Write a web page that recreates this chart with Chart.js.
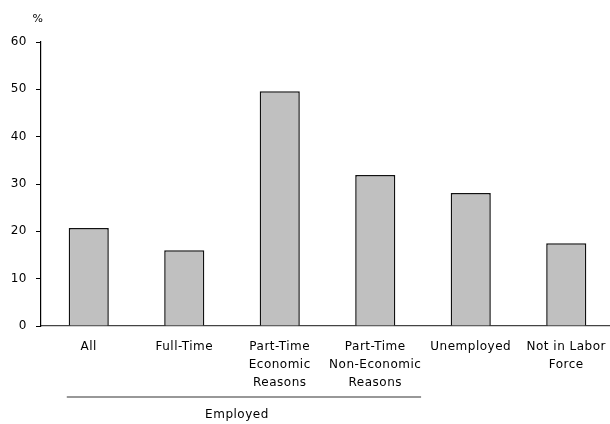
<!DOCTYPE html>
<html>
<head>
<meta charset="utf-8">
<script src="https://cdn.jsdelivr.net/npm/chart.js@4/dist/chart.umd.min.js"></script>
<style>
  html, body { margin: 0; padding: 0; background: #fff; overflow: hidden; }
  #wrap { width: 610px; height: 424px; overflow: hidden; }
  canvas { display: block; }
</style>
</head>
<body>
<div id="wrap"><canvas id="c" width="616" height="424"></canvas></div>
<script>
// Share of each labor-force group, percent
const categories = [
  ['All'],
  ['Full-Time'],
  ['Part-Time', 'Economic', 'Reasons'],
  ['Part-Time', 'Non-Economic', 'Reasons'],
  ['Unemployed'],
  ['Not in Labor', 'Force']
];
const values = [20.7, 16.0, 49.6, 31.9, 28.1, 17.5];
const yTicks = [0, 10, 20, 30, 40, 50, 60];
const unitLabel = '%';
const groupLabel = 'Employed';
const groupFirst = 0;   // first category under the "Employed" bracket
const groupLast = 3;    // last category under the bracket

const FONT = '"DejaVu Sans", Verdana, sans-serif';

// Slightly open letter spacing for all chart text
const spacing = {
  id: 'spacing',
  beforeDraw(chart) { chart.ctx.letterSpacing = '0.5px'; }
};

// Draws the unit label above the y axis and the bracket under the employed categories
const annotations = {
  id: 'annotations',
  afterDraw(chart) {
    const { ctx, scales } = chart;
    const x = scales.x, y = scales.y;
    ctx.save();
    ctx.letterSpacing = '0.5px';
    ctx.fillStyle = '#000';
    ctx.font = '11px ' + FONT;
    ctx.textAlign = 'center';
    ctx.textBaseline = 'middle';
    ctx.fillText(unitLabel, x.left - 3, y.getPixelForValue(60) - 23);

    const step = x.getPixelForValue(1) - x.getPixelForValue(0);
    const x0 = x.getPixelForValue(groupFirst) - step * 0.23;
    const x1 = x.getPixelForValue(groupLast) + step * 0.48;
    const lineY = y.getPixelForValue(0) + 71;
    ctx.strokeStyle = '#333';
    ctx.lineWidth = 1.2;
    ctx.beginPath();
    ctx.moveTo(x0, lineY);
    ctx.lineTo(x1, lineY);
    ctx.stroke();
    ctx.font = '12px ' + FONT;
    ctx.fillText(groupLabel, (x0 + x1) / 2 - 7, lineY + 18);
    ctx.restore();
  }
};

new Chart(document.getElementById('c'), {
  type: 'bar',
  data: {
    labels: categories,
    datasets: [{
      data: values,
      backgroundColor: '#c0c0c0',
      borderColor: '#111',
      borderWidth: 1.5,
      borderSkipped: 'bottom',
      barPercentage: 0.42,
      categoryPercentage: 1.0
    }]
  },
  options: {
    responsive: false,
    animation: false,
    events: [],
    layout: { padding: { top: 42, right: 2, bottom: 0, left: 0 } },
    plugins: { legend: { display: false }, tooltip: { enabled: false } },
    scales: {
      x: {
        grid: { display: false, drawTicks: false },
        border: { display: true, color: '#444', width: 1.2 },
        ticks: {
          color: '#000',
          font: { family: FONT, size: 12, lineHeight: 1.5 },
          padding: 12,
          maxRotation: 0,
          autoSkip: false
        },
        afterFit(axis) { axis.height = 98; }
      },
      y: {
        min: 0,
        max: 60,
        afterBuildTicks(axis) { axis.ticks = yTicks.map(v => ({ value: v })); },
        grid: { drawOnChartArea: false, drawTicks: true, tickLength: 5, color: '#000' },
        border: { display: true, color: '#000', width: 1.2 },
        ticks: {
          color: '#000',
          font: { family: FONT, size: 12 },
          padding: 9
        },
        afterFit(axis) { axis.width = 41; }
      }
    }
  },
  plugins: [spacing, annotations]
});
</script>
</body>
</html>
